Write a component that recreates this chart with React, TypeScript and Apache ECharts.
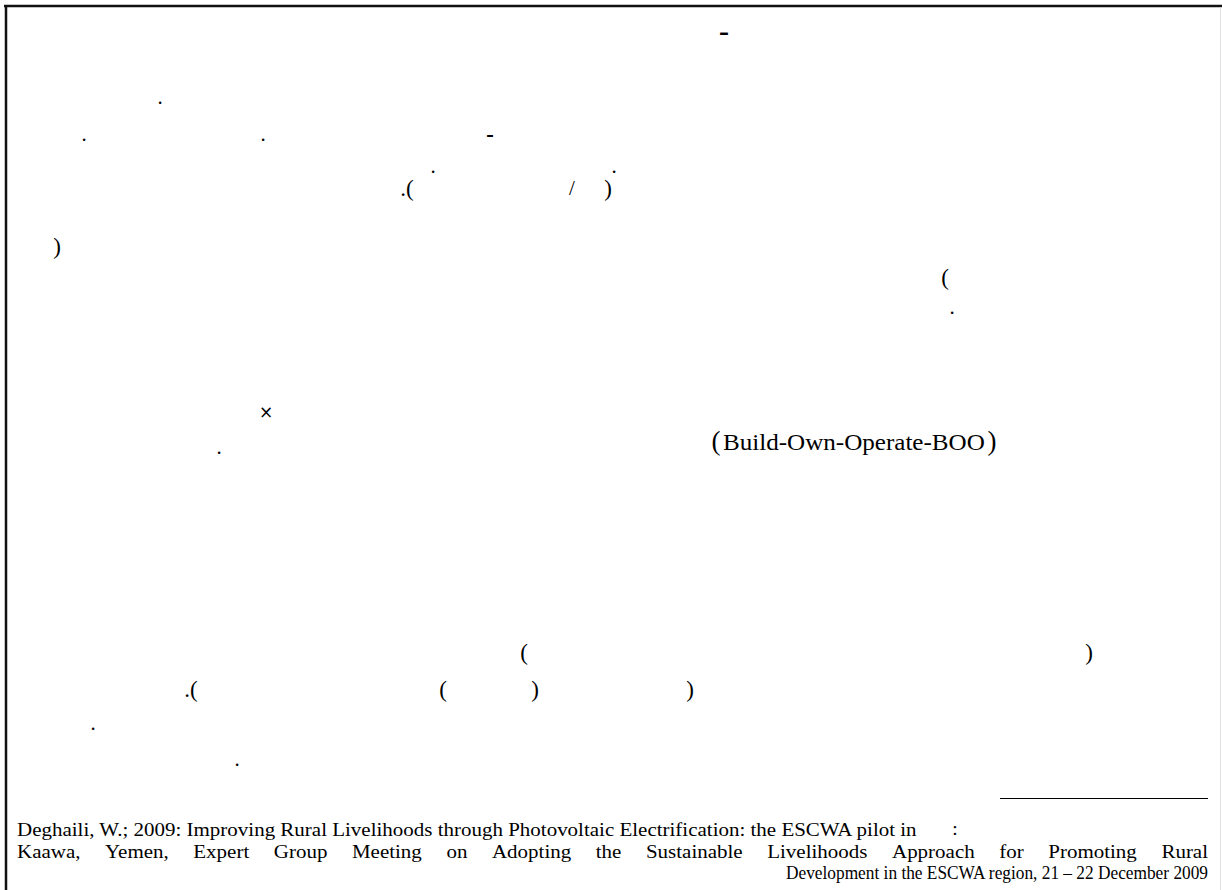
import React, { useEffect, useRef } from "react";
import * as echarts from "echarts";

// Leftover glyphs of the page (the Arabic letters are not drawn in the reference)
const marks = ["–", ".", ".", ".", "–", ".", ".", ".(", "/", ")", ")", "(", ".", "×", ".", "(", ")", ".(", "(", ")", ")", ".", "."];
const inlineLatin = "Build-Own-Operate-BOO";
const footnoteLine1 = "Deghaili, W.; 2009: Improving Rural Livelihoods through Photovoltaic Electrification: the ESCWA pilot in";
const footnoteColon = ":";
const footnoteLine2 = "Kaawa, Yemen, Expert Group Meeting on Adopting the Sustainable Livelihoods Approach for Promoting Rural";
const footnoteLine3 = "Development in the ESCWA region, 21 – 22 December 2009";

// layout: pixel position (x, y of the glyph's visual centre) for each mark
const markLayout = [
  [724, 32], [160, 101], [84, 138], [263, 138], [490, 135], [433, 170], [614, 170],
  [407, 188], [572, 188], [608, 188], [57, 246], [945, 277], [952, 311], [266, 412],
  [219, 451], [524, 652], [1089, 652], [191, 689], [443, 689], [535, 689], [690, 689],
  [93, 727], [237, 763],
];

const SERIF = "'Liberation Serif', 'Times New Roman', serif";

function measure(text: string, size: number) {
  const c = document.createElement("canvas").getContext("2d") as CanvasRenderingContext2D;
  c.font = `${size}px 'Liberation Serif'`;
  return c.measureText(text).width;
}

export default function App() {
  const ref = useRef<HTMLDivElement>(null);
  useEffect(() => {
    const chart = echarts.init(ref.current!, null, { renderer: "svg" });
    const fs = 19.5;
    const fs3 = 18.5;
    const graphics: any[] = [];
    // frame
    graphics.push({ type: "line", shape: { x1: 4, y1: 6, x2: 1222, y2: 6 }, style: { stroke: "#111", lineWidth: 2.5 } });
    graphics.push({ type: "line", shape: { x1: 6, y1: 5, x2: 6, y2: 890 }, style: { stroke: "#111", lineWidth: 2.5 } });
    graphics.push({ type: "line", shape: { x1: 1220.5, y1: 7, x2: 1220.5, y2: 890 }, style: { stroke: "#e2e2e2", lineWidth: 1 } });

    marks.forEach((m, i) => {
      let [x, y] = markLayout[i];
      let font = `23px ${SERIF}`;
      if (m === "–") font = i === 0 ? `bold 20px 'DejaVu Sans', sans-serif` : `bold 15px 'DejaVu Sans', sans-serif`;
      else if (m === "×") font = `17px 'DejaVu Sans', sans-serif`;
      else if (m === ".") { font = `21px ${SERIF}`; y -= 4; }
      else if (m === "/") font = `21px ${SERIF}`;
      graphics.push({
        type: "text",
        x, y,
        style: { text: m, fill: "#000", font, align: "center", verticalAlign: "middle" },
      });
    });

    // (Build-Own-Operate-BOO)
    const booFs = 23;
    const booW = measure(inlineLatin, booFs);
    const booScale = 262 / booW;
    graphics.push({ type: "text", x: 716, y: 441, style: { text: "(", fill: "#000", font: `27px ${SERIF}`, align: "center", verticalAlign: "middle" } });
    graphics.push({ type: "text", x: 992, y: 441, style: { text: ")", fill: "#000", font: `27px ${SERIF}`, align: "center", verticalAlign: "middle" } });
    graphics.push({
      type: "text", x: 723, y: 442, scaleX: booScale,
      style: { text: inlineLatin, fill: "#000", font: `${booFs}px ${SERIF}`, align: "left", verticalAlign: "middle" },
    });

    // footnote separator
    graphics.push({ type: "line", shape: { x1: 1000, y1: 798.5, x2: 1208, y2: 798.5 }, style: { stroke: "#000", lineWidth: 1 } });

    // line 1
    const l1w = measure(footnoteLine1, fs);
    const wide = (918 - 17) / l1w;
    graphics.push({ type: "text", x: 17, y: 829, scaleX: wide, style: { text: footnoteLine1, fill: "#000", font: `${fs}px ${SERIF}`, align: "left", verticalAlign: "middle" } });
    graphics.push({ type: "text", x: 955, y: 828, style: { text: footnoteColon, fill: "#000", font: `${fs}px ${SERIF}`, align: "center", verticalAlign: "middle" } });

    // justified line 2
    const words = footnoteLine2.split(" ");
    const left = 17, right = 1208;
    const widths = words.map((w) => measure(w, fs) * wide);
    const total = widths.reduce((a, b) => a + b, 0);
    const gap = (right - left - total) / (words.length - 1);
    let cx = left;
    words.forEach((w, i) => {
      graphics.push({ type: "text", x: cx, y: 851, scaleX: wide, style: { text: w, fill: "#000", font: `${fs}px ${SERIF}`, align: "left", verticalAlign: "middle" } });
      cx += widths[i] + gap;
    });

    // last line, right-aligned
    const l3w = measure(footnoteLine3, fs3);
    const s3 = (1208 - 785) / l3w;
    graphics.push({ type: "text", x: 1208, y: 873, scaleX: s3, style: { text: footnoteLine3, fill: "#000", font: `${fs3}px ${SERIF}`, align: "right", verticalAlign: "middle" } });

    chart.setOption({ animation: false, backgroundColor: "#fff", graphic: graphics });
    return () => chart.dispose();
  }, []);
  return <div ref={ref} style={{ position: "fixed", left: 0, top: 0, width: 1222, height: 890 }} />;
}
